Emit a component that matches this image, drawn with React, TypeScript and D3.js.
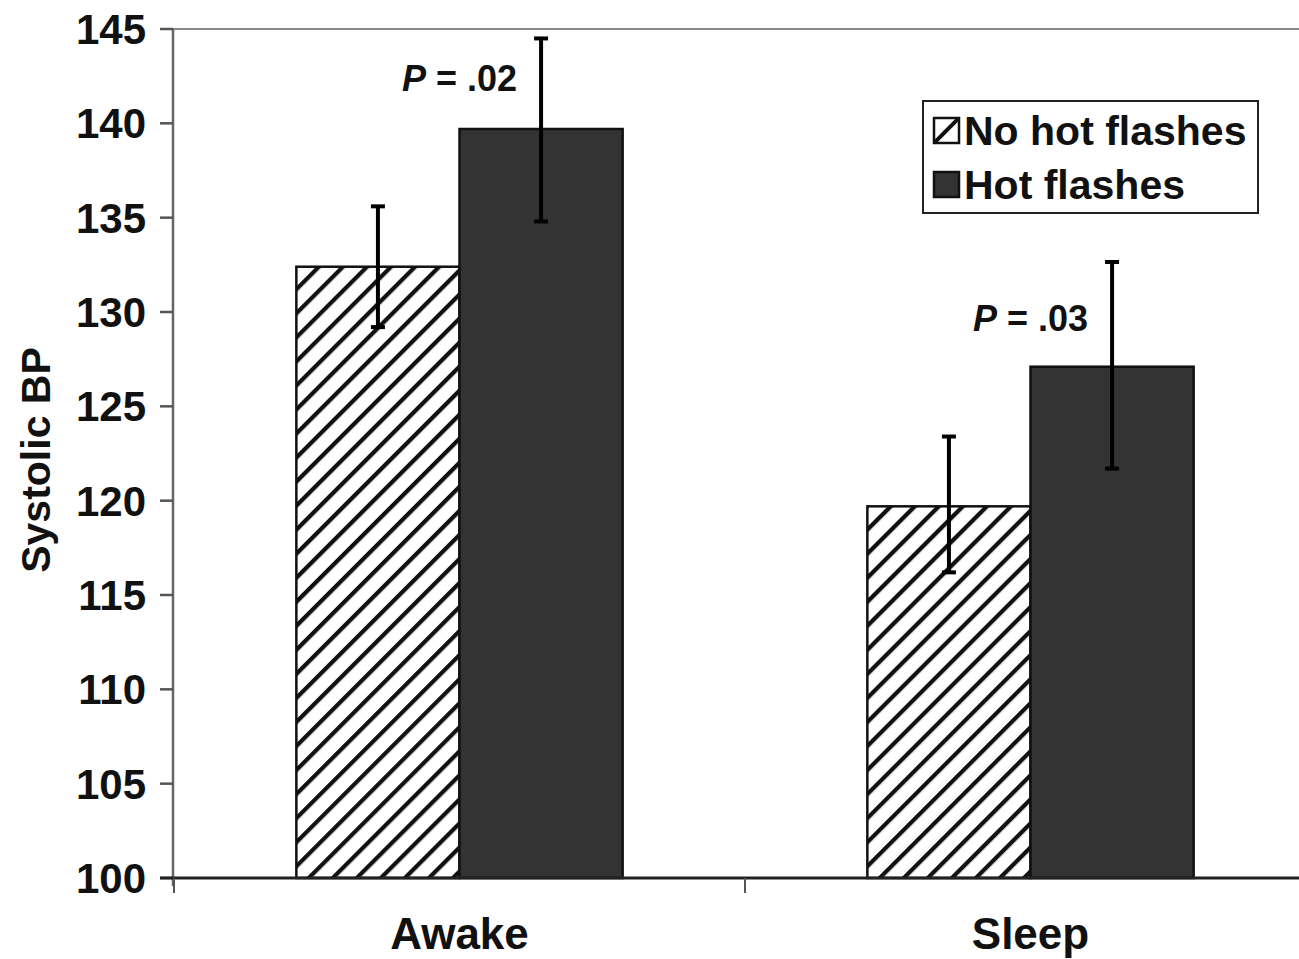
import React from "react";
import * as d3 from "d3";

const categories = ["Awake", "Sleep"];
const seriesNames = ["No hot flashes", "Hot flashes"];
const noHotMeans = [132.4, 119.7];
const noHotErrUp = [135.6, 123.4];
const noHotErrLow = [129.2, 116.2];
const hotMeans = [139.7, 127.1];
const hotErrUp = [144.5, 132.65];
const hotErrLow = [134.8, 121.7];
const yTicks = [100, 105, 110, 115, 120, 125, 130, 135, 140, 145];
const pLabels = ["P = .02", "P = .03"];
const pLabelValues = [141.7, 129.0];

const W = 1299;
const H = 959;
const FONT = "'Liberation Sans', Arial, Helvetica, sans-serif";

export default function App() {
  const y = d3.scaleLinear().domain([100, 145]).range([878, 29]);
  const x0 = d3.scaleBand<string>().domain(categories).range([174, 1316]).paddingInner(0).paddingOuter(0);
  const x1 = d3
    .scaleBand<string>()
    .domain(seriesNames)
    .range([0, x0.bandwidth()])
    .paddingInner(0)
    .paddingOuter(0.75);

  const rows = categories.map((c, i) => ({
    cat: c,
    bars: [
      { s: seriesNames[0], v: noHotMeans[i], hi: noHotErrUp[i], lo: noHotErrLow[i] },
      { s: seriesNames[1], v: hotMeans[i], hi: hotErrUp[i], lo: hotErrLow[i] },
    ],
  }));

  const fills = ["url(#hatch)", "#333333"];
  const bw = x1.bandwidth();
  const boundaries = [x0.range()[0], ...categories.map((c) => (x0(c) as number) + x0.bandwidth())];

  return (
    <svg width={W} height={H} style={{ position: "absolute", left: 0, top: 0, background: "#fff" }} fontFamily={FONT}>
      <defs>
        <pattern id="hatch" patternUnits="userSpaceOnUse" width={17} height={17} patternTransform="rotate(45)">
          <rect width={17} height={17} fill="#fff" />
          <line x1={2} y1={0} x2={2} y2={17} stroke="#111" strokeWidth={4.5} />
        </pattern>
        <clipPath id="legclip">
          <rect x={934} y={118} width={25} height={25} />
        </clipPath>
      </defs>

      {/* top border of plot area */}
      <line x1={173} x2={W} y1={29} y2={29} stroke="#888" strokeWidth={2} />

      {/* y axis */}
      <line x1={173} x2={173} y1={29} y2={886} stroke="#666" strokeWidth={2.5} />
      {yTicks.map((t) => (
        <g key={t}>
          <line x1={160} x2={173} y1={y(t)} y2={y(t)} stroke="#555" strokeWidth={2.5} />
          <text x={146} y={y(t)} dy="0.36em" textAnchor="end" fontSize={42} fontWeight="bold" fill="#111">
            {t}
          </text>
        </g>
      ))}

      {/* bars */}
      {rows.map((r) => (
        <g key={r.cat} transform={`translate(${x0(r.cat)},0)`}>
          {r.bars.map((b, j) => (
            <rect
              key={b.s}
              x={x1(b.s)}
              y={y(b.v)}
              width={bw}
              height={y(100) - y(b.v)}
              fill={fills[j]}
              stroke="#111"
              strokeWidth={2.5}
            />
          ))}
          {r.bars.map((b) => {
            const cx = (x1(b.s) as number) + bw / 2;
            return (
              <g key={b.s + "e"}>
                <line x1={cx} x2={cx} y1={y(b.hi)} y2={y(b.lo)} stroke="#000" strokeWidth={4} />
                <line x1={cx - 7} x2={cx + 7} y1={y(b.hi)} y2={y(b.hi)} stroke="#000" strokeWidth={4} />
                <line x1={cx - 7} x2={cx + 7} y1={y(b.lo)} y2={y(b.lo)} stroke="#000" strokeWidth={4} />
              </g>
            );
          })}
        </g>
      ))}

      {/* x axis */}
      <line x1={160} x2={W} y1={878} y2={878} stroke="#222" strokeWidth={3} />
      {boundaries.map((b, i) => (
        <line key={i} x1={b} x2={b} y1={878} y2={893} stroke="#555" strokeWidth={2} />
      ))}
      {categories.map((c) => (
        <text
          key={c}
          x={(x0(c) as number) + x0.bandwidth() / 2}
          y={949}
          textAnchor="middle"
          fontSize={44}
          fontWeight="bold"
          fill="#111"
        >
          {c}
        </text>
      ))}

      {/* P labels */}
      {categories.map((c, i) => {
        const cx = (x0(c) as number) + (x1(seriesNames[1]) as number) + bw / 2;
        return (
          <text key={c + "p"} x={cx - 24} y={y(pLabelValues[i])} textAnchor="end" fontSize={36} fontWeight="bold" fill="#111">
            <tspan fontStyle="italic">{pLabels[i].split(" ")[0]}</tspan>
            {" " + pLabels[i].split(" ").slice(1).join(" ")}
          </text>
        );
      })}

      {/* y axis title */}
      <text
        transform={`translate(50,460) rotate(-90)`}
        textAnchor="middle"
        fontSize={41}
        fontWeight="bold"
        fill="#111"
      >
        Systolic BP
      </text>

      {/* legend */}
      <rect x={923} y={101} width={335} height={112} fill="#fff" stroke="#222" strokeWidth={2} />
      <rect x={934} y={118} width={25} height={25} fill="#fff" />
      <line x1={934} y1={143} x2={959} y2={118} stroke="#111" strokeWidth={4} clipPath="url(#legclip)" />
      <rect x={934} y={118} width={25} height={25} fill="none" stroke="#111" strokeWidth={2.5} />
      <text x={964} y={145} fontSize={41} fontWeight="bold" fill="#111">
        {seriesNames[0]}
      </text>
      <rect x={934} y={172} width={25} height={25} fill="#333" stroke="#111" strokeWidth={2.5} />
      <text x={964} y={199} fontSize={41} fontWeight="bold" fill="#111">
        {seriesNames[1]}
      </text>
    </svg>
  );
}
